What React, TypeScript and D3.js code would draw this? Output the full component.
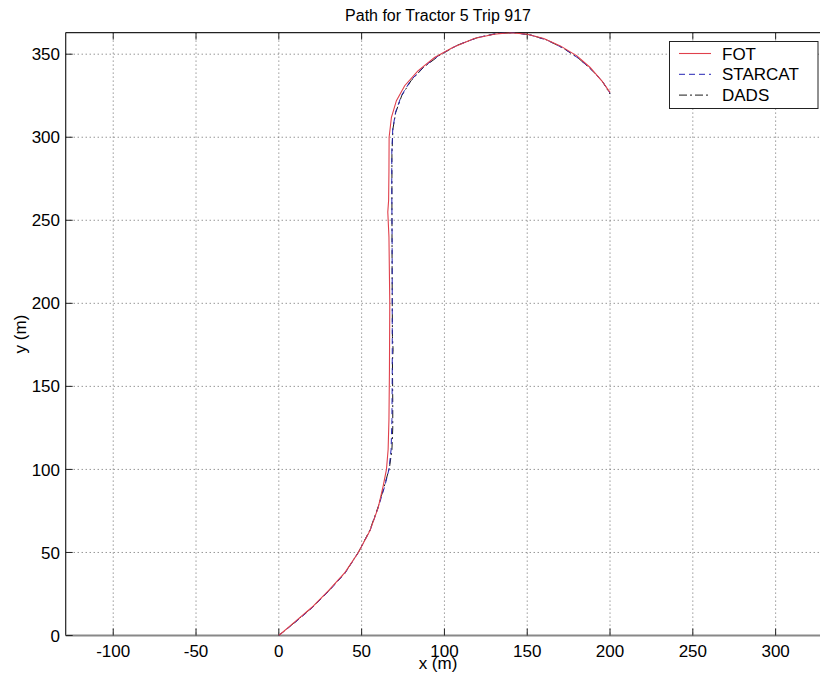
import React from "react";
import * as d3 from "d3";

const xTicks = [-100, -50, 0, 50, 100, 150, 200, 250, 300];
const yTicks = [0, 50, 100, 150, 200, 250, 300, 350];

const fotX = [0, 10, 20, 30, 40, 48, 55, 60, 63, 65, 66, 66.5, 66.8, 67, 66.5, 65.8, 66.3, 66.5, 66.6, 68, 71, 76, 84, 94, 105, 118, 130, 140, 150, 160, 170, 180, 188, 195, 200];
const fotY = [0, 8.5, 17, 27, 38, 50, 63, 77, 90, 100, 112, 130, 160, 200, 240, 255, 262, 280, 300, 312, 322, 331, 340, 348, 354, 359.5, 362, 363, 362, 359.5, 355, 349, 342, 334, 327];

const starX = [0, 10, 20, 30, 40, 48, 55, 60, 64, 66.5, 67.8, 68.3, 68.5, 68.5, 68.4, 68.2, 68.2, 68.8, 70.5, 74, 79.5, 87, 97, 108, 120, 132, 142, 152, 162, 172, 181, 189, 195.5, 200];
const starY = [0, 8, 16.5, 26.5, 37.5, 50, 63, 77, 90, 100, 112, 130, 160, 200, 240, 270, 290, 305, 315, 325, 334, 342, 349.5, 355.5, 360, 362.6, 363, 361.5, 358.5, 353.5, 347.5, 340.5, 333.5, 326.5];

const dadsX = [0, 10, 20, 30, 40, 48, 55, 60, 64, 66.8, 68.3, 68.8, 68.8, 68.6, 69, 68.6, 68.4, 68.3, 68.3, 68.9, 70.6, 74.2, 79.8, 87.3, 97.3, 108, 120, 132, 142, 152, 162, 172, 181, 189, 195.5, 200];
const dadsY = [0, 8.2, 16.8, 26.8, 37.8, 50, 63.5, 77.5, 91, 101, 112, 125, 140, 165, 172, 180, 220, 260, 290, 305, 315, 325, 334, 342, 349.5, 355.5, 360, 362.5, 363, 361.6, 358.5, 353.5, 347.5, 340.5, 333.5, 326];

const seriesNames = ["FOT", "STARCAT", "DADS"];
const title = "Path for Tractor 5 Trip 917";

const W = 820;
const H = 687;
const FONT = "'Liberation Sans', Arial, sans-serif";

export default function App() {
  const left = 65.7;
  const top = 32.6;
  const bottom = 635.5;
  const xScale = d3.scaleLinear().domain([-128.7, 328.7]).range([left, left + 457.4 * 1.656]);
  const yScale = d3.scaleLinear().domain([0, 363]).range([bottom, top]);
  const right = xScale(328.7);

  const line = d3
    .line<[number, number]>()
    .x((d) => xScale(d[0]))
    .y((d) => yScale(d[1]));

  const zip = (xs: number[], ys: number[]) => xs.map((x, i) => [x, ys[i]] as [number, number]);

  const styles = [
    { color: "#e0404c", dash: "none", width: 1.1 },
    { color: "#2424b4", dash: "6,4", width: 1 },
    { color: "#1a1a1a", dash: "8,3,2,3", width: 1 },
  ];
  const data = [zip(fotX, fotY), zip(starX, starY), zip(dadsX, dadsY)];
  const drawOrder = [2, 1, 0];

  const tickLen = 7;
  const legX = 669.5;
  const legY = 41.5;
  const legW = 148.5;
  const legH = 67;

  return (
    <svg
      width={W}
      height={H}
      style={{ position: "absolute", left: 0, top: 0, background: "#fff" }}
      fontFamily={FONT}
    >
      <rect x={0} y={0} width={W} height={H} fill="#fff" />
      <defs>
        <clipPath id="plotClip">
          <rect x={left} y={top} width={right - left} height={bottom - top} />
        </clipPath>
      </defs>
      {/* grid */}
      <g stroke="#666" strokeWidth={1} strokeDasharray="1,3">
        {xTicks.map((t) => (
          <line key={"gx" + t} x1={xScale(t)} x2={xScale(t)} y1={top} y2={bottom} />
        ))}
        {yTicks
          .filter((t) => t > 0)
          .map((t) => (
            <line key={"gy" + t} x1={left} x2={right} y1={yScale(t)} y2={yScale(t)} />
          ))}
      </g>
      {/* frame */}
      <line x1={left} x2={right} y1={top} y2={top} stroke="#222" strokeWidth={1.2} />
      <line x1={left} x2={left} y1={top} y2={bottom} stroke="#222" strokeWidth={1.2} />
      <line x1={left} x2={right} y1={bottom} y2={bottom} stroke="#888" strokeWidth={2} />
      {/* ticks */}
      <g stroke="#222" strokeWidth={1}>
        {xTicks.map((t) => (
          <g key={"tx" + t}>
            <line x1={xScale(t)} x2={xScale(t)} y1={bottom} y2={bottom - tickLen} />
            <line x1={xScale(t)} x2={xScale(t)} y1={top} y2={top + tickLen} />
          </g>
        ))}
        {yTicks.map((t) => (
          <line key={"ty" + t} x1={left} x2={left + tickLen} y1={yScale(t)} y2={yScale(t)} />
        ))}
      </g>
      {/* tick labels */}
      <g fontSize={17} fill="#000">
        {xTicks.map((t) => (
          <text key={"lx" + t} x={xScale(t)} y={656.5} textAnchor="middle">
            {t}
          </text>
        ))}
        {yTicks.map((t) => (
          <text key={"ly" + t} x={60} y={yScale(t)} dy="0.36em" textAnchor="end">
            {t}
          </text>
        ))}
      </g>
      {/* series */}
      <g clipPath="url(#plotClip)" fill="none">
        {drawOrder.map((i) => (
          <path
            key={"s" + i}
            d={line(data[i]) || ""}
            stroke={styles[i].color}
            strokeWidth={styles[i].width}
            strokeDasharray={styles[i].dash}
          />
        ))}
      </g>
      {/* title and labels */}
      <text x={438} y={20.5} textAnchor="middle" fontSize={16} fill="#000">
        {title}
      </text>
      <text x={438} y={668.5} textAnchor="middle" fontSize={17} fill="#000">
        x (m)
      </text>
      <text
        transform={`translate(26,${(top + bottom) / 2}) rotate(-90)`}
        textAnchor="middle"
        fontSize={17}
        fill="#000"
      >
        y (m)
      </text>
      {/* legend */}
      <g>
        <rect x={legX} y={legY} width={legW} height={legH} fill="#fff" stroke="#222" strokeWidth={1} />
        {seriesNames.map((name, i) => {
          const yy = legY + 12 + i * 20.8;
          return (
            <g key={"leg" + name}>
              <line
                x1={679}
                x2={711}
                y1={yy}
                y2={yy}
                stroke={styles[i].color}
                strokeWidth={styles[i].width}
                strokeDasharray={styles[i].dash}
              />
              <text x={722} y={yy} dy="0.36em" fontSize={17} fill="#000">
                {name}
              </text>
            </g>
          );
        })}
      </g>
    </svg>
  );
}
